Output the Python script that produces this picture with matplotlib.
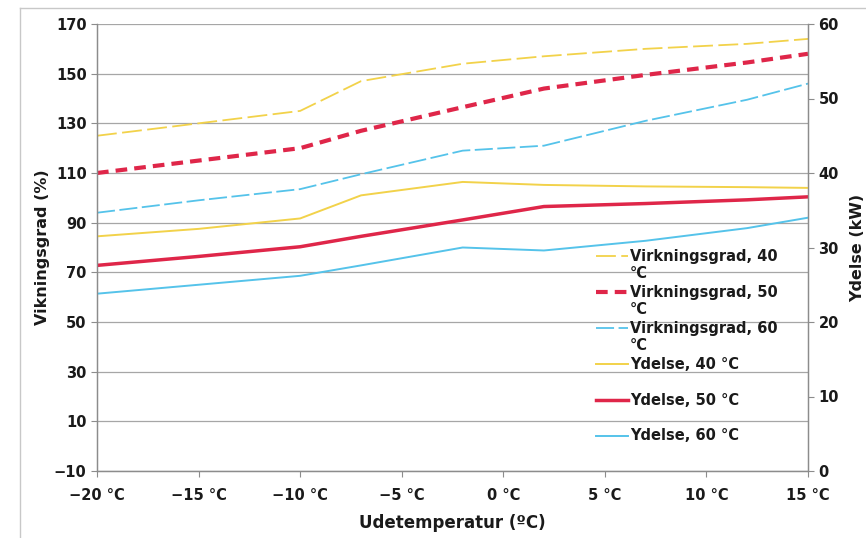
import matplotlib
matplotlib.use('Agg')
import numpy as np
import matplotlib.pyplot as plt
from matplotlib.lines import Line2D
from matplotlib.legend_handler import HandlerLine2D

# Udetemperatur (test points)
temps = [-20, -15, -10, -7, -2, 2, 7, 12, 15]

# Virkningsgrad (%) - left axis
virk_40 = [125, 130, 135, 147, 154, 157, 160, 162, 164]
virk_50 = [110, 115, 120, 127, 136.5, 144, 149.5, 154.5, 158]
virk_60 = [94, 99, 103.5, 109.5, 119, 121, 131, 139.5, 146]

# Ydelse (kW) - right axis
ydelse_40 = [31.5, 32.5, 33.9, 37.0, 38.8, 38.4, 38.2, 38.1, 38.0]
ydelse_50 = [27.6, 28.8, 30.1, 31.5, 33.7, 35.5, 35.9, 36.4, 36.8]
ydelse_60 = [23.8, 25.0, 26.2, 27.6, 30.0, 29.6, 30.9, 32.6, 34.0]

x_ticks = [-20, -15, -10, -5, 0, 5, 10, 15]
x_ticklabels = ['\u221220 \u00b0C', '\u221215 \u00b0C', '\u221210 \u00b0C', '\u22125 \u00b0C',
                '0 \u00b0C', '5 \u00b0C', '10 \u00b0C', '15 \u00b0C']
left_ticks = [-10, 10, 30, 50, 70, 90, 110, 130, 150, 170]
right_ticks = [0, 10, 20, 30, 40, 50, 60]

yellow = '#F2D24A'
red = '#DF2649'
blue = '#55C3EA'
grid_col = '#A6A6A6'
spine_col = '#8C8C8C'
text_col = '#1a1a1a'


# legend line sample sits level with the first text line (Excel style)
class RaisedLine(HandlerLine2D):
    def create_artists(self, legend, orig_handle, xdescent, ydescent, width, height, fontsize, trans):
        artists = super().create_artists(legend, orig_handle, xdescent, ydescent,
                                         width, height, fontsize, trans)
        for a in artists:
            a.set_ydata(np.asarray(a.get_ydata()) + 0.68 * fontsize)
        return artists


W, H = 866, 538
fig = plt.figure(figsize=(W / 100, H / 100), dpi=100)
ax = fig.add_axes([97 / W, 1 - 471 / H, (808 - 97) / W, (471 - 24) / H])
ax2 = ax.twinx()

# outer chart frame
fig.add_artist(Line2D([20 / W, 20 / W], [0, 1 - 8 / H], transform=fig.transFigure, color='#C8C8C8', lw=1))
fig.add_artist(Line2D([20 / W, 1], [1 - 8 / H, 1 - 8 / H], transform=fig.transFigure, color='#C8C8C8', lw=1))

l1, = ax.plot(temps, virk_40, color=yellow, lw=1.3, dashes=(11, 3), label='Virkningsgrad, 40\n\u00b0C')
l2, = ax.plot(temps, virk_50, color=red, lw=3.0, dashes=(2.8, 1.7), label='Virkningsgrad, 50\n\u00b0C')
l3, = ax.plot(temps, virk_60, color=blue, lw=1.3, dashes=(10, 2.5), label='Virkningsgrad, 60\n\u00b0C')
l4, = ax2.plot(temps, ydelse_40, color=yellow, lw=1.4, label='Ydelse, 40 \u00b0C\n ')
l5, = ax2.plot(temps, ydelse_50, color=red, lw=2.5, label='Ydelse, 50 \u00b0C\n ')
l6, = ax2.plot(temps, ydelse_60, color=blue, lw=1.4, label='Ydelse, 60 \u00b0C\n ')

ax.set_xlim(-20, 15)
ax.set_ylim(-10, 170)
ax2.set_ylim(0, 60)

ax.set_xticks(x_ticks)
ax.set_xticklabels(x_ticklabels)
ax.set_yticks(left_ticks)
ax2.set_yticks(right_ticks)

ax.grid(axis='y', color=grid_col, lw=0.9)
ax.set_axisbelow(True)

for a in (ax, ax2):
    a.spines['top'].set_visible(False)
    for s in ('left', 'right', 'bottom'):
        a.spines[s].set_color(spine_col)
        a.spines[s].set_linewidth(0.9)
    a.tick_params(colors=spine_col, length=4, width=0.8, labelcolor=text_col)
ax.tick_params(axis='x', pad=8)

for lab in ax.get_yticklabels() + ax2.get_yticklabels():
    lab.set_fontweight('bold')
    lab.set_fontsize(10.5)
for lab in ax.get_xticklabels():
    lab.set_fontweight('bold')
    lab.set_fontsize(10.5)
    lab.set_family(['Liberation Sans Narrow', 'DejaVu Sans'])

ax.set_ylabel('Vikningsgrad (%)', fontsize=11.5, fontweight='bold', color=text_col, labelpad=3)
ax2.set_ylabel('Ydelse (kW)', fontsize=11.5, fontweight='bold', color=text_col, labelpad=8)
ax.set_xlabel('Udetemperatur (\u00baC)', fontsize=12, fontweight='bold', color=text_col, labelpad=8,
              family=['Liberation Sans Narrow', 'DejaVu Sans'])

handles = [l1, l2, l3, l4, l5, l6]
leg = ax2.legend(handles=handles, labels=[h.get_label() for h in handles],
                 loc='upper left', bbox_to_anchor=(596 / W, 1 - 249 / H),
                 bbox_transform=fig.transFigure, frameon=False,
                 prop={'weight': 'bold', 'size': 10.5}, labelspacing=0.24,
                 handlelength=2.2, handletextpad=0.12, borderpad=0, borderaxespad=0,
                 handler_map={Line2D: RaisedLine()})
for t in leg.get_texts():
    t.set_color(text_col)

fig.savefig('out.png', dpi=100, facecolor='white')
